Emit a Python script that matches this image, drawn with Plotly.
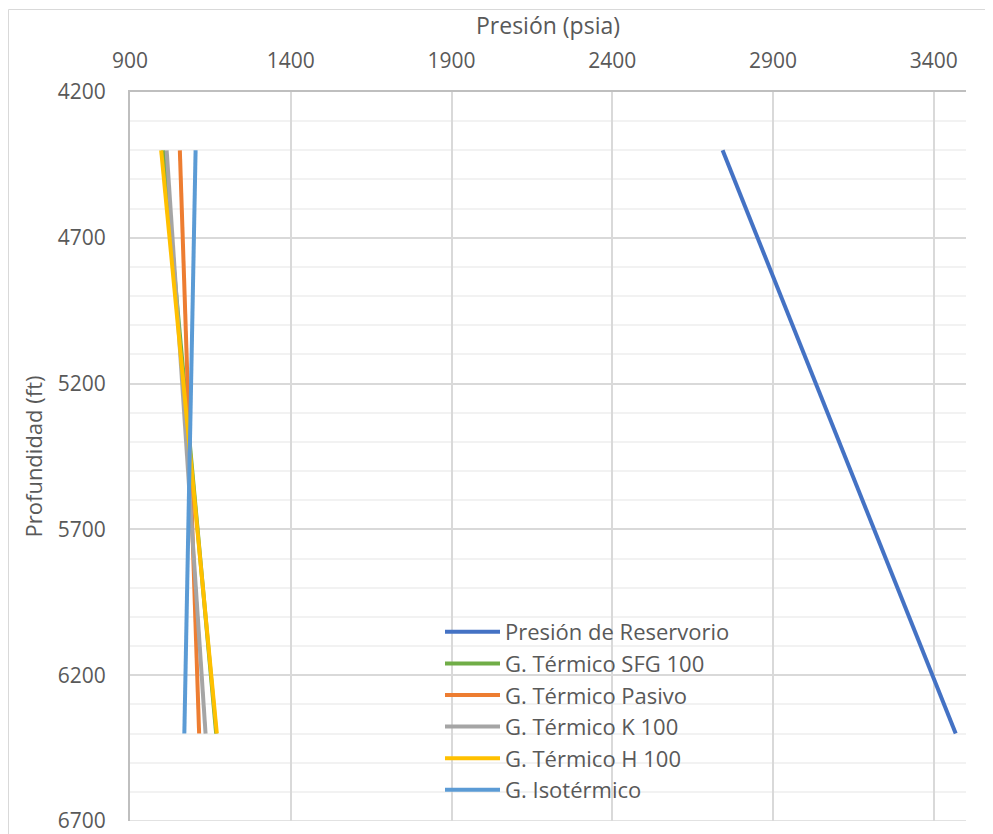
import plotly.graph_objects as go

# Data
depth_ft = [4400, 6400]
presion_reservorio = [2743, 3468]
termico_sfg100 = [1003, 1168]
termico_pasivo = [1055, 1115]
termico_k100 = [1014, 1135]
termico_h100 = [997, 1170]
isotermico = [1104, 1069]

series_names = [
    "Presión de Reservorio",
    "G. Térmico SFG 100",
    "G. Térmico Pasivo",
    "G. Térmico K 100",
    "G. Térmico H 100",
    "G. Isotérmico",
]
series_values = [presion_reservorio, termico_sfg100, termico_pasivo,
                 termico_k100, termico_h100, isotermico]
series_colors = ["#4472C4", "#70AD47", "#ED7D31", "#A5A5A5", "#FFC000", "#5B9BD5"]

x_ticks = [900, 1400, 1900, 2400, 2900, 3400]
y_ticks = [4200, 4700, 5200, 5700, 6200, 6700]

FONT = "Open Sans"
TXT = "#595959"

fig = go.Figure()
for name, vals, col in zip(series_names, series_values, series_colors):
    fig.add_trace(go.Scatter(
        x=vals, y=depth_ft, mode="lines", name=name,
        line=dict(color=col, width=4),
    ))

# page body adds an 8px offset; compensate so the plot lands where the reference has it
OFF = 8
W, H = 993 - OFF, 834 - OFF
L, R, T, B = 130 - OFF, 27, 92 - OFF, 13
pw, ph = W - L - R, H - T - B

fig.update_layout(
    width=W, height=H,
    margin=dict(l=L, r=R, t=T, b=B),
    paper_bgcolor="white", plot_bgcolor="white",
    font=dict(family=FONT, size=21, color=TXT),
    showlegend=True,
    legend=dict(
        x=310 / pw, y=(821 - 611) / ph,
        xanchor="left", yanchor="top",
        bgcolor="rgba(0,0,0,0)",
        font=dict(family=FONT, size=22, color=TXT),
        itemwidth=55,
        tracegroupgap=0,
    ),
    xaxis=dict(
        side="top", range=[900, 3500],
        tickvals=x_ticks, ticktext=[str(v) for v in x_ticks],
        showgrid=True, gridcolor="#d9d9d9", gridwidth=1.5,
        showline=True, linecolor="#bfbfbf", linewidth=1.5,
        ticks="", ticklabelstandoff=14, ticklabeloverflow="allow",
        zeroline=False, automargin=False,
        title=dict(text="Presión (psia)", font=dict(family=FONT, size=23, color=TXT), standoff=5),
    ),
    yaxis=dict(
        range=[6700, 4200],
        tickvals=y_ticks, ticktext=[str(v) for v in y_ticks],
        showgrid=True, gridcolor="#d9d9d9", gridwidth=1.5,
        minor=dict(dtick=100, showgrid=True, gridcolor="#f2f2f2", gridwidth=1.5, ticks=""),
        showline=True, linecolor="#bfbfbf", linewidth=2,
        ticks="", ticklabelstandoff=18, ticklabeloverflow="allow",
        zeroline=False, automargin=False,
        title=dict(text="Profundidad (ft)", font=dict(family=FONT, size=22, color=TXT), standoff=9),
    ),
    shapes=[
        dict(type="rect", xref="paper", yref="paper",
             x0=(0.5 - L) / pw, x1=(W + 10 - L) / pw,
             y0=(H - B - (H + 10)) / ph, y1=(H - B - 1.5) / ph,
             line=dict(color="#d9d9d9", width=1), fillcolor="rgba(0,0,0,0)", layer="below"),
        dict(type="line", xref="paper", yref="y",
             x0=0, x1=1, y0=6700, y1=6700,
             line=dict(color="#d9d9d9", width=1.5), layer="below"),
    ],
)

fig.write_html("out.html")
